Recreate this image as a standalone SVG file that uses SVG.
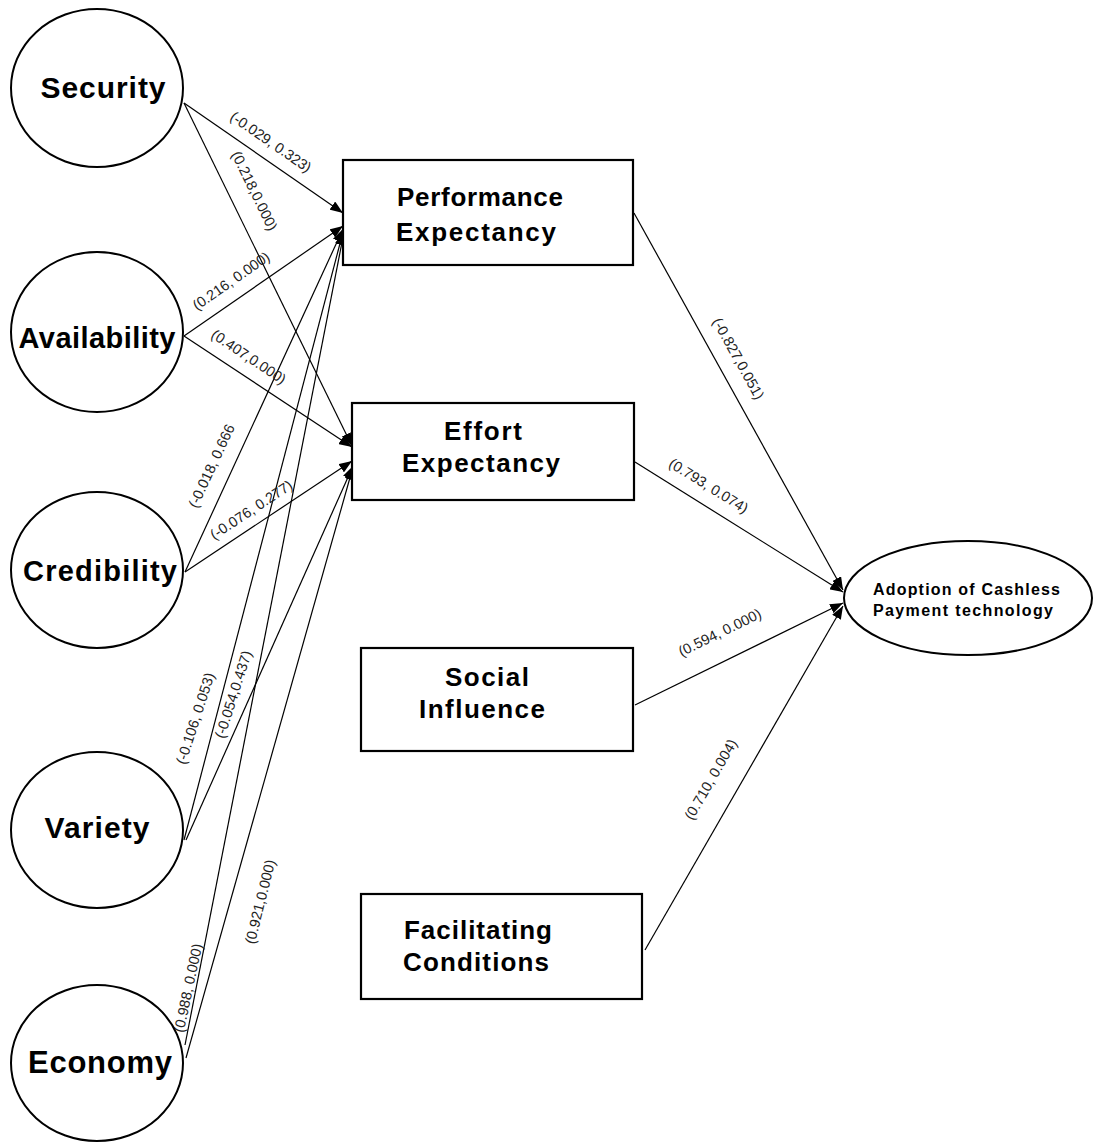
<svg xmlns="http://www.w3.org/2000/svg" width="1094" height="1142" viewBox="0 0 1094 1142">
<style>
.c{fill:#fff;stroke:#000;stroke-width:2}
.b{fill:#fff;stroke:#000;stroke-width:2.2}
.t{font-family:"Liberation Sans",Arial,sans-serif;font-weight:bold;fill:#000;text-anchor:middle}
.l{stroke:#000;stroke-width:1.2;fill:none;marker-end:url(#ah)}
.lb{font-family:"Liberation Sans",Arial,sans-serif;font-size:14.5px;fill:#222;text-anchor:middle}
</style>
<defs>
<marker id="ah" markerUnits="userSpaceOnUse" markerWidth="14" markerHeight="10" refX="13" refY="5" orient="auto">
<path d="M0,0 L13,5 L0,10 z" fill="#000"/>
</marker>
</defs>
<rect width="1094" height="1142" fill="#fff"/>
<g id="connectors">
<line class="l" x1="184" y1="103" x2="343" y2="213"/>
<line class="l" x1="184" y1="103" x2="352" y2="446"/>
<line class="l" x1="184" y1="336" x2="343" y2="226"/>
<line class="l" x1="184" y1="336" x2="352" y2="447"/>
<line class="l" x1="185" y1="572" x2="343" y2="229"/>
<line class="l" x1="185" y1="572" x2="352" y2="461"/>
<line class="l" x1="184" y1="840" x2="343" y2="232"/>
<line class="l" x1="186" y1="840" x2="353" y2="466"/>
<line class="l" x1="185" y1="1045" x2="344" y2="232"/>
<line class="l" x1="186" y1="1058" x2="353" y2="467"/>
<line class="l" x1="634" y1="213" x2="843" y2="590"/>
<line class="l" x1="635" y1="462" x2="843" y2="592"/>
<line class="l" x1="635" y1="705" x2="843" y2="603"/>
<line class="l" x1="645" y1="950" x2="843" y2="606"/>
<text class="lb" transform="translate(268,146) rotate(34.7)">(-0.029, 0.323)</text>
<text class="lb" transform="translate(250,193) rotate(64)">(0.218,0.000)</text>
<text class="lb" transform="translate(234,285) rotate(-34.9)">(0.216, 0.000)</text>
<text class="lb" transform="translate(246,361) rotate(33.7)">(0.407,0.000)</text>
<text class="lb" transform="translate(216,468) rotate(-65)">(-0.018, 0.666</text>
<text class="lb" transform="translate(254,514) rotate(-33.4)">(-0.076, 0.277)</text>
<text class="lb" transform="translate(200,720) rotate(-72)">(-0.106, 0.053)</text>
<text class="lb" transform="translate(238,696) rotate(-72)">(-0.054,0.437)</text>
<text class="lb" transform="translate(193,989) rotate(-78)">(0.988, 0.000)</text>
<text class="lb" transform="translate(265,903) rotate(-76)">(0.921,0.000)</text>
<text class="lb" transform="translate(734,361) rotate(61)">(-0.827,0.051)</text>
<text class="lb" transform="translate(706,490) rotate(32)">(0.793, 0.074)</text>
<text class="lb" transform="translate(722,637) rotate(-26)">(0.594, 0.000)</text>
<text class="lb" transform="translate(715,782) rotate(-60)">(0.710, 0.004)</text>
</g>
<g id="security">
<ellipse class="c" cx="97" cy="88" rx="86" ry="79"/>
<text class="t" x="103" y="98" font-size="30" textLength="125">Security</text>
</g>
<g id="availability">
<ellipse class="c" cx="97" cy="332" rx="86" ry="80"/>
<text class="t" x="97" y="348" font-size="29" textLength="157">Availability</text>
</g>
<g id="credibility">
<ellipse class="c" cx="97" cy="570" rx="86" ry="78"/>
<text class="t" x="100" y="581" font-size="29" textLength="154">Credibility</text>
</g>
<g id="variety">
<ellipse class="c" cx="97" cy="830" rx="86" ry="78"/>
<text class="t" x="97" y="838" font-size="30" textLength="105">Variety</text>
</g>
<g id="economy">
<ellipse class="c" cx="97" cy="1063" rx="86" ry="78"/>
<text class="t" x="100" y="1073" font-size="31" textLength="144">Economy</text>
</g>
<g id="performance-expectancy">
<rect class="b" x="343" y="160" width="290" height="105"/>
<text class="t" x="480" y="206" font-size="26" textLength="166">Performance</text>
<text class="t" x="476" y="241" font-size="26" textLength="160">Expectancy</text>
</g>
<g id="effort-expectancy">
<rect class="b" x="352" y="403" width="282" height="97"/>
<text class="t" x="483" y="440" font-size="26" textLength="78">Effort</text>
<text class="t" x="481" y="472" font-size="26" textLength="158">Expectancy</text>
</g>
<g id="social-influence">
<rect class="b" x="361" y="648" width="272" height="103"/>
<text class="t" x="487" y="686" font-size="26" textLength="84">Social</text>
<text class="t" x="482" y="718" font-size="26" textLength="126">Influence</text>
</g>
<g id="facilitating-conditions">
<rect class="b" x="361" y="894" width="281" height="105"/>
<text class="t" x="478" y="939" font-size="26" textLength="148">Facilitating</text>
<text class="t" x="476" y="971" font-size="26" textLength="146">Conditions</text>
</g>
<g id="adoption">
<ellipse class="c" cx="968" cy="598" rx="124" ry="57"/>
<text class="t" x="873" y="595" font-size="16" style="text-anchor:start" textLength="187">Adoption of Cashless</text>
<text class="t" x="873" y="616" font-size="16" style="text-anchor:start" textLength="180">Payment technology</text>
</g>
</svg>
